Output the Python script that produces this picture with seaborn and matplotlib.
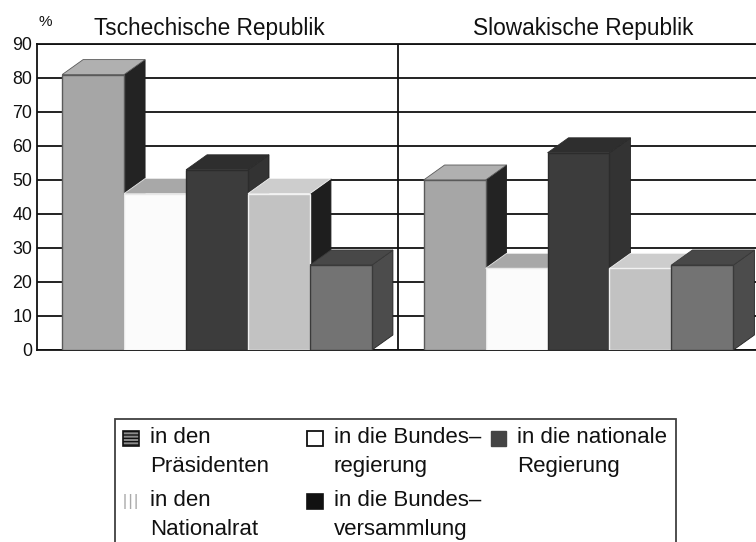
import matplotlib
matplotlib.use("Agg")
import matplotlib.pyplot as plt
from matplotlib.patches import Polygon, Patch, Rectangle
from matplotlib.legend_handler import HandlerPatch
from matplotlib.offsetbox import DrawingArea
import pandas as pd
import seaborn as sns

countries = ["Tschechische Republik", "Slowakische Republik"]
targets = ["in den\nPräsidenten", "in die Bundes–\nregierung", "in die Bundes–\nversammlung",
           "in den\nNationalrat", "in die nationale\nRegierung"]
czech_values = [81, 46, 53, 46, 25]
slovak_values = [50, 24, 58, 24, 25]
y_ticks = [0, 10, 20, 30, 40, 50, 60, 70, 80, 90]

front_colors = ["#a6a6a6", "#fbfbfb", "#3c3c3c", "#c2c2c2", "#737373"]
edge_colors = ["#5a5a5a", "#e8e8e8", "#2c2c2c", "#f2f2f2", "#3a3a3a"]
top_colors = ["#b0b0b0", "#a8a8a8", "#2e2e2e", "#cdcdcd", "#484848"]
side_colors = ["#232323", "#444444", "#333333", "#1e1e1e", "#4c4c4c"]

df = pd.DataFrame({
    "land": [c for c in countries for _ in targets],
    "ziel": targets * 2,
    "wert": czech_values + slovak_values,
})

sns.set_theme(style="white")
plt.rcParams["font.family"] = ["Liberation Sans", "DejaVu Sans"]

fig = plt.figure(figsize=(7.56, 5.42), dpi=100)
ax = fig.add_axes([37 / 756, (542 - 350) / 542, (756 - 37) / 756, 306 / 542])

sns.barplot(data=df, x="land", y="wert", hue="ziel", order=countries, hue_order=targets,
            palette=front_colors, saturation=1, width=0.857, gap=0, legend=False, ax=ax)

ax.set_xlim(-0.498, 1.491)
ax.set_ylim(0, 90)

depth_x = 21 / 361.5
depth_y = 15 / 3.4

for i, container in enumerate(ax.containers):
    for bar in container:
        x0, x1 = bar.get_x(), bar.get_x() + bar.get_width()
        h = bar.get_height()
        bar.set_edgecolor(edge_colors[i])
        bar.set_linewidth(1.0)
        bar.set_zorder(3.2 + i)
        ax.add_patch(Polygon([(x1, 0), (x1 + depth_x, depth_y), (x1 + depth_x, h + depth_y), (x1, h)],
                             closed=True, facecolor=side_colors[i], edgecolor="#222222",
                             linewidth=0.6, zorder=3 + i))
        ax.add_patch(Polygon([(x0, h), (x0 + depth_x, h + depth_y), (x1 + depth_x, h + depth_y), (x1, h)],
                             closed=True, facecolor=top_colors[i], edgecolor=edge_colors[i],
                             linewidth=0.6, zorder=3.1 + i))

ax.set_xlabel("")
ax.set_ylabel("")
ax.set_xticks([])
ax.set_yticks(y_ticks)
ax.tick_params(axis="y", length=0, pad=3.5, labelsize=12.8, labelcolor="#111111")
ax.yaxis.grid(True, color="#111111", linewidth=1.3)
ax.set_axisbelow(True)
ax.axvline(0.5, color="#111111", linewidth=1.3, zorder=2)
for name, spine in ax.spines.items():
    spine.set_visible(name != "right")
    spine.set_color("#111111")
    spine.set_linewidth(1.3)

trans = ax.get_xaxis_transform()
ax.text(-0.0205, 1.03, countries[0], transform=trans, ha="center", va="baseline", fontsize=16.3, color="#111111")
ax.text(1.012, 1.03, countries[1], transform=trans, ha="center", va="baseline", fontsize=16.3, color="#111111")
ax.text(-0.4745, 1.06, "%", transform=trans, ha="center", va="baseline", fontsize=11, color="#111111")


def raised_swatch(legend, orig_handle, xdescent, ydescent, width, height, fontsize):
    return Rectangle((-xdescent, -ydescent + 10), width, height)


handles = [
    Patch(facecolor="#8c8c8c", edgecolor="#111111", linewidth=1.2, hatch="-----"),
    Patch(facecolor="white", edgecolor="#aaaaaa", linewidth=0, hatch="|||"),
    Patch(facecolor="white", edgecolor="#111111", linewidth=1.3),
    Patch(facecolor="#111111", edgecolor="#111111", linewidth=1.2),
    Patch(facecolor="#444444", edgecolor="#444444", linewidth=1.0),
]
order = [0, 3, 1, 2, 4]
labels = [targets[k] for k in order]
legend = fig.legend(
    handles, labels, ncol=3, loc="upper left", bbox_to_anchor=(115 / 756, 1 - 418.5 / 542),
    borderaxespad=0, fontsize=16, frameon=True, fancybox=False, edgecolor="#111111",
    facecolor="white", handlelength=0.68, handleheight=0.68, handletextpad=0.5,
    columnspacing=0.45, labelspacing=0.6, borderpad=0.38, labelcolor="#111111",
    handler_map={Patch: HandlerPatch(patch_func=raised_swatch)},
)
legend.get_frame().set_linewidth(1.3)
for text in legend.get_texts():
    text.set_linespacing(1.5)
legend._legend_handle_box.get_children().insert(1, DrawingArea(13.5, 0))

fig.savefig("out.png", dpi=100)
